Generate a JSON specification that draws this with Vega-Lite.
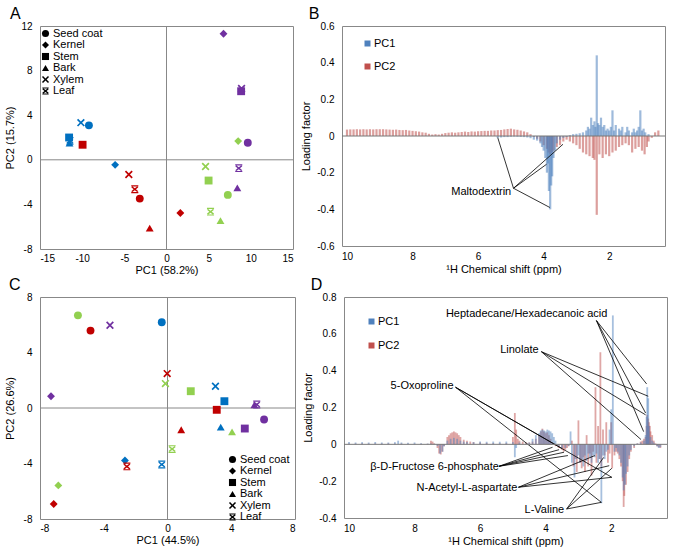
{
"$schema": "https://vega.github.io/schema/vega-lite/v6.json",
"background": "white",
"padding": {"left": 3, "top": 5, "right": 0, "bottom": 0},
"config": {
  "font": "Liberation Sans",
  "view": {"stroke": "#888888", "strokeWidth": 1},
  "axis": {"labelFont": "Liberation Sans", "labelFontSize": 10, "labelColor": "#000", "titleFont": "Liberation Sans", "titleFontSize": 11, "titleFontWeight": "normal", "titleColor": "#000", "grid": false, "domain": false, "ticks": false, "labelOverlap": false, "tickCount": 12},
  "legend": {"labelFont": "Liberation Sans", "labelFontSize": 11, "labelColor": "#000", "padding": 0},
  "title": {"font": "Liberation Sans", "fontSize": 16, "fontWeight": "normal", "anchor": "start", "frame": "bounds", "offset": -1, "color": "#000"}
},
"resolve": {"scale": {"color": "independent", "shape": "independent"}, "legend": {"color": "independent", "shape": "independent"}},
"datasets": {
  "scA": [
    {"t":"Kernel","g":"p","x":6.76,"y":11.3},
    {"t":"Stem","g":"p","x":8.85,"y":6.15},
    {"t":"Xylem","g":"p","x":8.9,"y":6.4},
    {"t":"Kernel","g":"g","x":8.5,"y":1.68},
    {"t":"Seed coat","g":"p","x":9.64,"y":1.53},
    {"t":"Xylem","g":"g","x":4.63,"y":-0.6},
    {"t":"Leaf","g":"p","x":8.57,"y":-0.75},
    {"t":"Stem","g":"g","x":4.99,"y":-1.86},
    {"t":"Bark","g":"p","x":8.4,"y":-2.52},
    {"t":"Seed coat","g":"g","x":7.27,"y":-3.15},
    {"t":"Kernel","g":"r","x":1.64,"y":-4.77},
    {"t":"Leaf","g":"g","x":5.22,"y":-4.65},
    {"t":"Bark","g":"g","x":6.4,"y":-5.46},
    {"t":"Xylem","g":"b","x":-10.15,"y":3.33},
    {"t":"Seed coat","g":"b","x":-9.2,"y":3.09},
    {"t":"Leaf","g":"b","x":-11.45,"y":1.7},
    {"t":"Bark","g":"b","x":-11.5,"y":1.5},
    {"t":"Stem","g":"b","x":-11.55,"y":2.0},
    {"t":"Stem","g":"r","x":-9.95,"y":1.35},
    {"t":"Kernel","g":"b","x":-6.09,"y":-0.45},
    {"t":"Xylem","g":"r","x":-4.47,"y":-1.32},
    {"t":"Leaf","g":"r","x":-3.76,"y":-2.64},
    {"t":"Seed coat","g":"r","x":-3.17,"y":-3.48},
    {"t":"Bark","g":"r","x":-1.99,"y":-6.12}
  ],
  "scC": [
    {"t":"Seed coat","g":"g","x":-5.62,"y":6.68},
    {"t":"Seed coat","g":"r","x":-4.83,"y":5.58},
    {"t":"Xylem","g":"p","x":-3.61,"y":5.96},
    {"t":"Seed coat","g":"b","x":-0.36,"y":6.18},
    {"t":"Xylem","g":"r","x":-0.02,"y":2.48},
    {"t":"Xylem","g":"g","x":-0.13,"y":1.76},
    {"t":"Kernel","g":"p","x":-7.31,"y":0.85},
    {"t":"Stem","g":"g","x":1.46,"y":1.21},
    {"t":"Xylem","g":"b","x":3.01,"y":1.57},
    {"t":"Stem","g":"b","x":3.57,"y":0.49},
    {"t":"Bark","g":"p","x":5.45,"y":0.22},
    {"t":"Leaf","g":"p","x":5.6,"y":0.25},
    {"t":"Stem","g":"r","x":3.09,"y":-0.13},
    {"t":"Seed coat","g":"p","x":6.06,"y":-0.83},
    {"t":"Bark","g":"r","x":0.86,"y":-1.57},
    {"t":"Bark","g":"b","x":3.34,"y":-1.38},
    {"t":"Bark","g":"g","x":4.05,"y":-1.72},
    {"t":"Stem","g":"p","x":4.85,"y":-1.48},
    {"t":"Leaf","g":"g","x":0.29,"y":-2.96},
    {"t":"Kernel","g":"b","x":-2.67,"y":-3.78},
    {"t":"Leaf","g":"r","x":-2.55,"y":-4.21},
    {"t":"Leaf","g":"b","x":-0.36,"y":-4.07},
    {"t":"Kernel","g":"g","x":-6.85,"y":-5.58},
    {"t":"Kernel","g":"r","x":-7.14,"y":-6.92}
  ],
  "spB": [
    {"s":"PC2","x":10.0,"v":0.035},{"s":"PC2","x":9.9,"v":0.036},{"s":"PC2","x":9.8,"v":0.036},{"s":"PC2","x":9.7,"v":0.037},{"s":"PC2","x":9.6,"v":0.036},{"s":"PC2","x":9.5,"v":0.037},{"s":"PC2","x":9.4,"v":0.036},{"s":"PC2","x":9.3,"v":0.037},{"s":"PC2","x":9.2,"v":0.036},{"s":"PC2","x":9.1,"v":0.037},
    {"s":"PC2","x":9.0,"v":0.037},{"s":"PC2","x":8.9,"v":0.037},{"s":"PC2","x":8.8,"v":0.036},{"s":"PC2","x":8.7,"v":0.035},{"s":"PC2","x":8.6,"v":0.034},{"s":"PC2","x":8.5,"v":0.035},{"s":"PC2","x":8.4,"v":0.033},{"s":"PC2","x":8.3,"v":0.032},{"s":"PC2","x":8.2,"v":0.033},{"s":"PC2","x":8.1,"v":0.03},
    {"s":"PC2","x":8.0,"v":0.028},{"s":"PC2","x":7.9,"v":0.026},{"s":"PC2","x":7.8,"v":0.024},{"s":"PC2","x":7.7,"v":0.02},{"s":"PC2","x":7.6,"v":0.018},{"s":"PC2","x":7.5,"v":0.012},{"s":"PC2","x":7.4,"v":0.008},{"s":"PC2","x":7.3,"v":0.01},{"s":"PC2","x":7.2,"v":0.008},{"s":"PC2","x":7.1,"v":0.012},
    {"s":"PC2","x":7.0,"v":0.016},{"s":"PC2","x":6.9,"v":0.018},{"s":"PC2","x":6.8,"v":0.02},{"s":"PC2","x":6.7,"v":0.018},{"s":"PC2","x":6.6,"v":0.02},{"s":"PC2","x":6.5,"v":0.022},{"s":"PC2","x":6.4,"v":0.024},{"s":"PC2","x":6.3,"v":0.022},{"s":"PC2","x":6.2,"v":0.025},{"s":"PC2","x":6.1,"v":0.024},
    {"s":"PC2","x":6.0,"v":0.026},{"s":"PC2","x":5.9,"v":0.027},{"s":"PC2","x":5.8,"v":0.028},{"s":"PC2","x":5.7,"v":0.028},{"s":"PC2","x":5.6,"v":0.03},{"s":"PC2","x":5.5,"v":0.03},{"s":"PC2","x":5.4,"v":0.032},{"s":"PC2","x":5.3,"v":0.033},{"s":"PC2","x":5.2,"v":0.036},{"s":"PC2","x":5.1,"v":0.038},
    {"s":"PC2","x":5.0,"v":0.04},{"s":"PC2","x":4.9,"v":0.036},{"s":"PC2","x":4.8,"v":0.034},{"s":"PC2","x":4.7,"v":0.03},{"s":"PC2","x":4.6,"v":0.025},{"s":"PC2","x":4.5,"v":0.02},{"s":"PC2","x":4.4,"v":0.01},{"s":"PC2","x":4.3,"v":-0.005},{"s":"PC2","x":4.2,"v":-0.015},{"s":"PC2","x":4.1,"v":-0.03},
    {"s":"PC2","x":4.0,"v":-0.05},{"s":"PC2","x":3.9,"v":-0.07},{"s":"PC2","x":3.85,"v":-0.09},{"s":"PC2","x":3.8,"v":-0.1},{"s":"PC2","x":3.75,"v":-0.09},{"s":"PC2","x":3.7,"v":-0.08},{"s":"PC2","x":3.6,"v":-0.06},{"s":"PC2","x":3.5,"v":-0.05},{"s":"PC2","x":3.4,"v":-0.03},{"s":"PC2","x":3.3,"v":-0.02},
    {"s":"PC2","x":3.2,"v":-0.03},{"s":"PC2","x":3.1,"v":-0.04},{"s":"PC2","x":3.0,"v":-0.05},{"s":"PC2","x":2.9,"v":-0.07},{"s":"PC2","x":2.8,"v":-0.09},{"s":"PC2","x":2.7,"v":-0.1},{"s":"PC2","x":2.6,"v":-0.11},{"s":"PC2","x":2.5,"v":-0.12},{"s":"PC2","x":2.45,"v":-0.13},{"s":"PC2","x":2.38,"v":-0.43},
    {"s":"PC2","x":2.3,"v":-0.1},{"s":"PC2","x":2.2,"v":-0.12},{"s":"PC2","x":2.1,"v":-0.1},{"s":"PC2","x":2.0,"v":-0.11},{"s":"PC2","x":1.9,"v":-0.09},{"s":"PC2","x":1.8,"v":-0.08},{"s":"PC2","x":1.7,"v":-0.06},{"s":"PC2","x":1.6,"v":-0.05},{"s":"PC2","x":1.5,"v":-0.04},{"s":"PC2","x":1.4,"v":-0.05},
    {"s":"PC2","x":1.3,"v":-0.09},{"s":"PC2","x":1.2,"v":-0.07},{"s":"PC2","x":1.1,"v":-0.06},{"s":"PC2","x":1.0,"v":-0.08},{"s":"PC2","x":0.92,"v":-0.1},{"s":"PC2","x":0.85,"v":-0.06},{"s":"PC2","x":0.8,"v":-0.03},{"s":"PC2","x":0.7,"v":-0.01},{"s":"PC2","x":0.6,"v":0.02},{"s":"PC2","x":0.5,"v":0.03},
    {"s":"PC1","x":5.4,"v":-0.01},{"s":"PC1","x":5.3,"v":-0.008},{"s":"PC1","x":5.2,"v":-0.006},{"s":"PC1","x":5.1,"v":-0.006},{"s":"PC1","x":5.0,"v":-0.004},{"s":"PC1","x":4.9,"v":-0.003},{"s":"PC1","x":4.8,"v":-0.004},{"s":"PC1","x":4.7,"v":-0.005},{"s":"PC1","x":4.6,"v":-0.006},{"s":"PC1","x":4.5,"v":-0.008},
    {"s":"PC1","x":4.4,"v":-0.012},{"s":"PC1","x":4.3,"v":-0.02},{"s":"PC1","x":4.2,"v":-0.025},{"s":"PC1","x":4.1,"v":-0.04},{"s":"PC1","x":4.05,"v":-0.06},{"s":"PC1","x":4.0,"v":-0.08},{"s":"PC1","x":3.95,"v":-0.12},{"s":"PC1","x":3.9,"v":-0.2},{"s":"PC1","x":3.87,"v":-0.15},{"s":"PC1","x":3.84,"v":-0.3},
    {"s":"PC1","x":3.8,"v":-0.4},{"s":"PC1","x":3.77,"v":-0.27},{"s":"PC1","x":3.74,"v":-0.22},{"s":"PC1","x":3.7,"v":-0.12},{"s":"PC1","x":3.65,"v":-0.08},{"s":"PC1","x":3.6,"v":-0.04},{"s":"PC1","x":3.5,"v":-0.02},{"s":"PC1","x":3.4,"v":-0.01},{"s":"PC1","x":3.3,"v":-0.005},{"s":"PC1","x":3.2,"v":0.005},
    {"s":"PC1","x":3.1,"v":0.01},{"s":"PC1","x":3.0,"v":0.012},{"s":"PC1","x":2.9,"v":0.015},{"s":"PC1","x":2.8,"v":0.02},{"s":"PC1","x":2.7,"v":0.03},{"s":"PC1","x":2.65,"v":0.05},{"s":"PC1","x":2.6,"v":0.04},{"s":"PC1","x":2.55,"v":0.1},{"s":"PC1","x":2.5,"v":0.06},{"s":"PC1","x":2.45,"v":0.08},
    {"s":"PC1","x":2.42,"v":0.05},{"s":"PC1","x":2.38,"v":0.44},{"s":"PC1","x":2.34,"v":0.07},{"s":"PC1","x":2.3,"v":0.06},{"s":"PC1","x":2.25,"v":0.1},{"s":"PC1","x":2.2,"v":0.05},{"s":"PC1","x":2.15,"v":0.06},{"s":"PC1","x":2.1,"v":0.03},{"s":"PC1","x":2.05,"v":0.04},{"s":"PC1","x":2.0,"v":0.03},
    {"s":"PC1","x":1.95,"v":0.05},{"s":"PC1","x":1.9,"v":0.14},{"s":"PC1","x":1.85,"v":0.03},{"s":"PC1","x":1.8,"v":0.06},{"s":"PC1","x":1.7,"v":0.04},{"s":"PC1","x":1.65,"v":0.03},{"s":"PC1","x":1.6,"v":0.05},{"s":"PC1","x":1.5,"v":0.02},{"s":"PC1","x":1.45,"v":0.05},{"s":"PC1","x":1.4,"v":0.03},
    {"s":"PC1","x":1.3,"v":0.02},{"s":"PC1","x":1.25,"v":0.04},{"s":"PC1","x":1.2,"v":0.02},{"s":"PC1","x":1.15,"v":0.03},{"s":"PC1","x":1.1,"v":0.05},{"s":"PC1","x":1.05,"v":0.14},{"s":"PC1","x":1.0,"v":0.03},{"s":"PC1","x":0.95,"v":0.04},{"s":"PC1","x":0.9,"v":0.02},{"s":"PC1","x":0.8,"v":0.01}
  ],
  "spD": [
    {"s":"PC2","x":10.0,"v":0.005},{"s":"PC2","x":9.8,"v":0.004},{"s":"PC2","x":9.6,"v":0.005},{"s":"PC2","x":9.4,"v":0.004},{"s":"PC2","x":9.2,"v":0.005},{"s":"PC2","x":9.0,"v":0.004},{"s":"PC2","x":8.8,"v":0.005},{"s":"PC2","x":8.6,"v":0.004},{"s":"PC2","x":8.4,"v":0.004},{"s":"PC2","x":8.2,"v":0.003},
    {"s":"PC2","x":8.0,"v":0.003},{"s":"PC2","x":7.8,"v":0.003},{"s":"PC2","x":7.6,"v":0.003},{"s":"PC2","x":7.5,"v":0.02},{"s":"PC2","x":7.45,"v":0.015},{"s":"PC2","x":7.4,"v":0.005},{"s":"PC2","x":7.3,"v":-0.02},{"s":"PC2","x":7.25,"v":-0.05},{"s":"PC2","x":7.2,"v":-0.055},{"s":"PC2","x":7.15,"v":-0.04},
    {"s":"PC2","x":7.1,"v":-0.01},{"s":"PC2","x":7.0,"v":0.04},{"s":"PC2","x":6.95,"v":0.05},{"s":"PC2","x":6.9,"v":0.06},{"s":"PC2","x":6.85,"v":0.065},{"s":"PC2","x":6.8,"v":0.07},{"s":"PC2","x":6.75,"v":0.065},{"s":"PC2","x":6.7,"v":0.06},{"s":"PC2","x":6.65,"v":0.05},{"s":"PC2","x":6.6,"v":0.04},
    {"s":"PC2","x":6.5,"v":0.025},{"s":"PC2","x":6.4,"v":0.02},{"s":"PC2","x":6.3,"v":0.015},{"s":"PC2","x":6.2,"v":0.012},{"s":"PC2","x":6.0,"v":0.01},{"s":"PC2","x":5.8,"v":0.008},{"s":"PC2","x":5.6,"v":0.006},{"s":"PC2","x":5.4,"v":0.005},{"s":"PC2","x":5.2,"v":0.006},{"s":"PC2","x":5.0,"v":0.04},
    {"s":"PC2","x":4.94,"v":0.17},{"s":"PC2","x":4.9,"v":0.08},{"s":"PC2","x":4.85,"v":0.03},{"s":"PC2","x":4.8,"v":0.02},{"s":"PC2","x":4.7,"v":0.015},{"s":"PC2","x":4.6,"v":0.01},{"s":"PC2","x":4.5,"v":0.01},{"s":"PC2","x":4.4,"v":0.015},{"s":"PC2","x":4.3,"v":0.03},{"s":"PC2","x":4.2,"v":0.05},
    {"s":"PC2","x":4.15,"v":0.07},{"s":"PC2","x":4.1,"v":0.085},{"s":"PC2","x":4.05,"v":0.07},{"s":"PC2","x":4.0,"v":0.06},{"s":"PC2","x":3.95,"v":0.065},{"s":"PC2","x":3.9,"v":0.05},{"s":"PC2","x":3.85,"v":0.03},{"s":"PC2","x":3.8,"v":0.01},{"s":"PC2","x":3.7,"v":-0.01},{"s":"PC2","x":3.6,"v":-0.02},
    {"s":"PC2","x":3.5,"v":-0.03},{"s":"PC2","x":3.45,"v":-0.04},{"s":"PC2","x":3.4,"v":-0.03},{"s":"PC2","x":3.35,"v":-0.02},{"s":"PC2","x":3.3,"v":-0.01},{"s":"PC2","x":3.2,"v":0.02},{"s":"PC2","x":3.15,"v":-0.12},{"s":"PC2","x":3.1,"v":-0.08},{"s":"PC2","x":3.05,"v":-0.15},{"s":"PC2","x":3.0,"v":0.13},
    {"s":"PC2","x":2.95,"v":-0.1},{"s":"PC2","x":2.9,"v":-0.13},{"s":"PC2","x":2.85,"v":-0.07},{"s":"PC2","x":2.8,"v":-0.15},{"s":"PC2","x":2.75,"v":0.05},{"s":"PC2","x":2.7,"v":-0.12},{"s":"PC2","x":2.65,"v":-0.05},{"s":"PC2","x":2.6,"v":-0.17},{"s":"PC2","x":2.55,"v":-0.04},{"s":"PC2","x":2.48,"v":0.31},
    {"s":"PC2","x":2.45,"v":-0.1},{"s":"PC2","x":2.4,"v":0.1},{"s":"PC2","x":2.36,"v":-0.08},{"s":"PC2","x":2.33,"v":0.5},{"s":"PC2","x":2.3,"v":-0.12},{"s":"PC2","x":2.25,"v":0.08},{"s":"PC2","x":2.2,"v":-0.06},{"s":"PC2","x":2.15,"v":0.12},{"s":"PC2","x":2.1,"v":-0.1},{"s":"PC2","x":2.05,"v":-0.05},
    {"s":"PC2","x":2.0,"v":0.12},{"s":"PC2","x":1.97,"v":-0.13},{"s":"PC2","x":1.9,"v":-0.06},{"s":"PC2","x":1.85,"v":-0.04},{"s":"PC2","x":1.8,"v":-0.05},{"s":"PC2","x":1.75,"v":-0.08},{"s":"PC2","x":1.7,"v":-0.12},{"s":"PC2","x":1.65,"v":-0.2},{"s":"PC2","x":1.62,"v":-0.34},{"s":"PC2","x":1.6,"v":-0.28},
    {"s":"PC2","x":1.55,"v":-0.22},{"s":"PC2","x":1.5,"v":-0.15},{"s":"PC2","x":1.45,"v":-0.08},{"s":"PC2","x":1.4,"v":-0.04},{"s":"PC2","x":1.3,"v":-0.02},{"s":"PC2","x":1.2,"v":0.005},{"s":"PC2","x":1.1,"v":0.015},{"s":"PC2","x":1.05,"v":0.02},{"s":"PC2","x":1.0,"v":0.03},{"s":"PC2","x":0.95,"v":0.04},
    {"s":"PC2","x":0.92,"v":0.1},{"s":"PC2","x":0.9,"v":0.16},{"s":"PC2","x":0.87,"v":0.14},{"s":"PC2","x":0.85,"v":0.12},{"s":"PC2","x":0.82,"v":0.1},{"s":"PC2","x":0.8,"v":0.07},{"s":"PC2","x":0.75,"v":0.05},{"s":"PC2","x":0.7,"v":0.02},{"s":"PC2","x":0.65,"v":0.005},{"s":"PC2","x":0.6,"v":-0.01},
    {"s":"PC2","x":0.55,"v":-0.015},{"s":"PC2","x":0.5,"v":-0.02},
    {"s":"PC1","x":10.0,"v":0.012},{"s":"PC1","x":9.8,"v":0.01},{"s":"PC1","x":9.6,"v":0.012},{"s":"PC1","x":9.4,"v":0.01},{"s":"PC1","x":9.2,"v":0.012},{"s":"PC1","x":9.0,"v":0.01},{"s":"PC1","x":8.8,"v":0.01},{"s":"PC1","x":8.6,"v":0.012},{"s":"PC1","x":8.5,"v":0.02},{"s":"PC1","x":8.4,"v":0.01},
    {"s":"PC1","x":8.2,"v":0.008},{"s":"PC1","x":8.0,"v":0.01},{"s":"PC1","x":7.8,"v":0.006},{"s":"PC1","x":7.6,"v":0.004},{"s":"PC1","x":7.5,"v":0.005},{"s":"PC1","x":7.4,"v":0.003},{"s":"PC1","x":7.3,"v":-0.01},{"s":"PC1","x":7.22,"v":-0.05},{"s":"PC1","x":7.15,"v":-0.04},{"s":"PC1","x":7.1,"v":-0.01},
    {"s":"PC1","x":7.0,"v":0.02},{"s":"PC1","x":6.9,"v":0.03},{"s":"PC1","x":6.8,"v":0.035},{"s":"PC1","x":6.7,"v":0.03},{"s":"PC1","x":6.6,"v":0.02},{"s":"PC1","x":6.5,"v":0.015},{"s":"PC1","x":6.4,"v":0.012},{"s":"PC1","x":6.2,"v":0.012},{"s":"PC1","x":6.0,"v":0.015},{"s":"PC1","x":5.8,"v":0.014},
    {"s":"PC1","x":5.6,"v":0.015},{"s":"PC1","x":5.4,"v":0.014},{"s":"PC1","x":5.2,"v":0.015},{"s":"PC1","x":5.0,"v":0.012},{"s":"PC1","x":4.94,"v":-0.07},{"s":"PC1","x":4.9,"v":-0.02},{"s":"PC1","x":4.8,"v":0.01},{"s":"PC1","x":4.6,"v":0.005},{"s":"PC1","x":4.5,"v":0.01},{"s":"PC1","x":4.4,"v":0.03},
    {"s":"PC1","x":4.3,"v":0.05},{"s":"PC1","x":4.2,"v":0.06},{"s":"PC1","x":4.15,"v":0.075},{"s":"PC1","x":4.1,"v":0.08},{"s":"PC1","x":4.05,"v":0.075},{"s":"PC1","x":4.0,"v":0.07},{"s":"PC1","x":3.95,"v":0.08},{"s":"PC1","x":3.9,"v":0.075},{"s":"PC1","x":3.85,"v":0.07},{"s":"PC1","x":3.8,"v":0.06},
    {"s":"PC1","x":3.75,"v":0.04},{"s":"PC1","x":3.7,"v":0.02},{"s":"PC1","x":3.6,"v":-0.01},{"s":"PC1","x":3.5,"v":-0.02},{"s":"PC1","x":3.4,"v":-0.02},{"s":"PC1","x":3.3,"v":-0.01},{"s":"PC1","x":3.24,"v":0.07},{"s":"PC1","x":3.2,"v":-0.1},{"s":"PC1","x":3.12,"v":-0.18},{"s":"PC1","x":3.05,"v":-0.08},
    {"s":"PC1","x":3.0,"v":-0.06},{"s":"PC1","x":2.95,"v":-0.1},{"s":"PC1","x":2.9,"v":-0.08},{"s":"PC1","x":2.85,"v":-0.12},{"s":"PC1","x":2.8,"v":-0.06},{"s":"PC1","x":2.75,"v":-0.09},{"s":"PC1","x":2.7,"v":-0.05},{"s":"PC1","x":2.65,"v":-0.07},{"s":"PC1","x":2.6,"v":-0.1},{"s":"PC1","x":2.55,"v":-0.06},
    {"s":"PC1","x":2.5,"v":-0.07},{"s":"PC1","x":2.45,"v":-0.05},{"s":"PC1","x":2.4,"v":-0.1},{"s":"PC1","x":2.35,"v":-0.08},{"s":"PC1","x":2.3,"v":-0.32},{"s":"PC1","x":2.25,"v":-0.06},{"s":"PC1","x":2.2,"v":-0.08},{"s":"PC1","x":2.15,"v":-0.04},{"s":"PC1","x":2.1,"v":-0.03},{"s":"PC1","x":2.05,"v":0.08},
    {"s":"PC1","x":2.0,"v":0.19},{"s":"PC1","x":1.95,"v":0.7},{"s":"PC1","x":1.9,"v":-0.04},{"s":"PC1","x":1.85,"v":-0.02},{"s":"PC1","x":1.8,"v":-0.04},{"s":"PC1","x":1.75,"v":-0.06},{"s":"PC1","x":1.7,"v":-0.1},{"s":"PC1","x":1.65,"v":-0.18},{"s":"PC1","x":1.62,"v":-0.25},{"s":"PC1","x":1.58,"v":-0.22},
    {"s":"PC1","x":1.55,"v":-0.16},{"s":"PC1","x":1.5,"v":-0.12},{"s":"PC1","x":1.45,"v":-0.06},{"s":"PC1","x":1.4,"v":-0.03},{"s":"PC1","x":1.3,"v":-0.01},{"s":"PC1","x":1.2,"v":0.005},{"s":"PC1","x":1.1,"v":0.01},{"s":"PC1","x":1.0,"v":0.02},{"s":"PC1","x":0.95,"v":0.05},{"s":"PC1","x":0.92,"v":0.15},
    {"s":"PC1","x":0.9,"v":0.31},{"s":"PC1","x":0.87,"v":0.25},{"s":"PC1","x":0.85,"v":0.1},{"s":"PC1","x":0.8,"v":0.04},{"s":"PC1","x":0.75,"v":0.02},{"s":"PC1","x":0.7,"v":0.01},{"s":"PC1","x":0.6,"v":-0.01},{"s":"PC1","x":0.55,"v":-0.02},{"s":"PC1","x":0.5,"v":-0.015}
  ],
  "lnB": [
    {"x":4.92,"v":-0.285,"x2":5.4,"v2":-0.009},
    {"x":4.92,"v":-0.285,"x2":3.91,"v2":-0.154},
    {"x":4.92,"v":-0.285,"x2":3.41,"v2":-0.045},
    {"x":4.92,"v":-0.285,"x2":3.81,"v2":-0.39}
  ],
  "txB": [{"x":4.99,"v":-0.303,"label":"Maltodextrin"}],
  "lnD": [
    {"x":2.45,"v":0.672,"x2":0.92,"v2":0.328},
    {"x":2.45,"v":0.672,"x2":0.95,"v2":0.17},
    {"x":2.45,"v":0.672,"x2":1.01,"v2":0.069},
    {"x":4.13,"v":0.503,"x2":0.87,"v2":0.261},
    {"x":4.13,"v":0.503,"x2":0.95,"v2":0.16},
    {"x":4.13,"v":0.503,"x2":1.09,"v2":0.026},
    {"x":6.75,"v":0.31,"x2":3.51,"v2":-0.022},
    {"x":6.75,"v":0.31,"x2":1.98,"v2":-0.179},
    {"x":6.75,"v":0.31,"x2":2.3,"v2":-0.315},
    {"x":5.42,"v":-0.119,"x2":3.79,"v2":-0.016},
    {"x":5.42,"v":-0.119,"x2":3.59,"v2":-0.029},
    {"x":5.42,"v":-0.119,"x2":3.44,"v2":-0.043},
    {"x":5.42,"v":-0.119,"x2":3.32,"v2":-0.061},
    {"x":4.83,"v":-0.233,"x2":2.5,"v2":-0.061},
    {"x":4.83,"v":-0.233,"x2":2.06,"v2":-0.116},
    {"x":4.83,"v":-0.233,"x2":1.98,"v2":-0.179},
    {"x":3.36,"v":-0.351,"x2":2.23,"v2":-0.071},
    {"x":3.36,"v":-0.351,"x2":1.98,"v2":-0.13},
    {"x":3.36,"v":-0.351,"x2":2.3,"v2":-0.315}
  ],
  "txD": [
    {"x":4.58,"v":0.708,"label":"Heptadecane/Hexadecanoic acid"},
    {"x":4.8,"v":0.514,"label":"Linolate"},
    {"x":7.77,"v":0.315,"label":"5-Oxoproline"},
    {"x":7.39,"v":-0.125,"label":"β-D-Fructose 6-phosphate"},
    {"x":6.4,"v":-0.239,"label":"N-Acetyl-L-aspartate"},
    {"x":4.04,"v":-0.356,"label":"L-Valine"}
  ]
},
"vconcat": [
  {"hconcat": [
    {
      "width": 253, "height": 223,
      "title": {"text": "A", "dx": 5},
      "layer": [
        {"data": {"values": [{}]}, "mark": {"type": "rule", "color": "#888888"}, "encoding": {"x": {"datum": 0}}},
        {"data": {"values": [{}]}, "mark": {"type": "rule", "color": "#888888"}, "encoding": {"y": {"datum": 0}}},
        {"data": {"name": "scA"}, "mark": {"type": "point", "filled": true, "size": 62, "opacity": 1},
         "encoding": {
           "x": {"field": "x", "type": "quantitative", "scale": {"domain": [-15, 15], "nice": false, "zero": false}, "axis": {"values": [-15, -10, -5, 0, 5, 10, 15], "title": "PC1 (58.2%)", "labelExpr": "'' + datum.value", "labelPadding": 4, "titlePadding": 1, "labelOverlap": false, "tickCount": 12}},
           "y": {"field": "y", "type": "quantitative", "scale": {"domain": [-8, 12], "nice": false, "zero": false}, "axis": {"values": [-8, -4, 0, 4, 8, 12], "title": "PC2 (15.7%)", "labelExpr": "'' + datum.value", "labelPadding": 8, "titlePadding": 5, "labelOverlap": false, "tickCount": 12}},
           "color": {"field": "g", "type": "nominal", "scale": {"domain": ["b", "r", "p", "g"], "range": ["#0070C0", "#C00000", "#7030A0", "#92D050"]}, "legend": null},
           "shape": {"field": "t", "type": "nominal", "scale": {"domain": ["Seed coat", "Kernel", "Stem", "Bark", "Xylem", "Leaf"], "range": ["circle", "diamond", "square", "triangle-up", "M-1,-0.7L-0.7,-1L0,-0.3L0.7,-1L1,-0.7L0.3,0L1,0.7L0.7,1L0,0.3L-0.7,1L-1,0.7L-0.3,0Z", "M-0.9,-0.5L-0.6,-0.7L0,-0.25L0.6,-0.7L0.9,-0.5L0.3,0L0.9,0.5L0.6,0.7L0,0.25L-0.6,0.7L-0.9,0.5L-0.3,0Z M-0.9,-1L0.9,-1L0.9,-0.7L-0.9,-0.7Z M-0.9,0.7L0.9,0.7L0.9,1L-0.9,1Z"]},
             "legend": {"title": null, "orient": "none", "legendX": 0, "legendY": 2, "symbolFillColor": "#000", "symbolStrokeColor": "#000", "symbolStrokeWidth": 0, "symbolSize": 50, "labelFontSize": 11, "rowPadding": -0.5, "labelOffset": 2}}
         }}
      ]
    },
    {
      "width": 323, "height": 220,
      "title": {"text": "B", "dx": 8},
      "layer": [
        {"data": {"name": "spB"}, "mark": {"type": "bar", "orient": "vertical", "size": 2.2, "opacity": 0.55},
         "encoding": {
           "x": {"field": "x", "type": "quantitative", "scale": {"domain": [0.45, 10], "reverse": true, "nice": false, "zero": false}, "axis": {"values": [10, 8, 6, 4, 2], "title": "¹H Chemical shift (ppm)", "labelExpr": "'' + datum.value", "labelPadding": 5, "titlePadding": 2, "labelOverlap": false, "tickCount": 12}},
           "y": {"field": "v", "type": "quantitative", "stack": null, "scale": {"domain": [-0.6, 0.6], "nice": false}, "axis": {"values": [-0.6, -0.4, -0.2, 0, 0.2, 0.4, 0.6], "title": "Loading factor", "labelExpr": "'' + datum.value", "labelPadding": 8, "titlePadding": 5, "labelOverlap": false, "tickCount": 12}},
           "color": {"field": "s", "type": "nominal", "scale": {"domain": ["PC1", "PC2"], "range": ["#4F81BD", "#C0504D"]},
             "legend": {"title": null, "orient": "none", "legendX": 20, "legendY": 12, "symbolType": "square", "symbolSize": 36, "symbolOpacity": 1, "symbolStrokeWidth": 0, "rowPadding": 11, "labelOffset": 1}}
         }},
        {"data": {"name": "lnB"}, "mark": {"type": "rule", "color": "#000", "strokeWidth": 0.8},
         "encoding": {
           "x": {"field": "x", "type": "quantitative", "axis": {"values": [10, 8, 6, 4, 2], "title": "¹H Chemical shift (ppm)", "labelExpr": "'' + datum.value", "labelPadding": 5, "titlePadding": 2, "labelOverlap": false, "tickCount": 12}},
           "x2": {"field": "x2"},
           "y": {"field": "v", "type": "quantitative", "axis": {"values": [-0.6, -0.4, -0.2, 0, 0.2, 0.4, 0.6], "title": "Loading factor", "labelExpr": "'' + datum.value", "labelPadding": 8, "titlePadding": 5, "labelOverlap": false, "tickCount": 12}},
           "y2": {"field": "v2"}}},
        {"data": {"name": "txB"}, "mark": {"type": "text", "align": "right", "baseline": "middle", "fontSize": 11, "color": "#000"},
         "encoding": {
           "x": {"field": "x", "type": "quantitative", "axis": {"values": [10, 8, 6, 4, 2], "title": "¹H Chemical shift (ppm)", "labelExpr": "'' + datum.value", "labelPadding": 5, "titlePadding": 2, "labelOverlap": false, "tickCount": 12}},
           "y": {"field": "v", "type": "quantitative", "axis": {"values": [-0.6, -0.4, -0.2, 0, 0.2, 0.4, 0.6], "title": "Loading factor", "labelExpr": "'' + datum.value", "labelPadding": 8, "titlePadding": 5, "labelOverlap": false, "tickCount": 12}},
           "text": {"field": "label"}}},
        {"data": {"values": [{}]}, "mark": {"type": "rule", "color": "#777777"}, "encoding": {"y": {"datum": 0}}}
      ]
    }
  ],
  "spacing": 6,
  "resolve": {"scale": {"color": "independent", "shape": "independent"}, "legend": {"color": "independent", "shape": "independent"}}},
  {"hconcat": [
    {
      "width": 255, "height": 222,
      "title": {"text": "C", "dx": 5},
      "layer": [
        {"data": {"values": [{}]}, "mark": {"type": "rule", "color": "#888888"}, "encoding": {"x": {"datum": 0}}},
        {"data": {"values": [{}]}, "mark": {"type": "rule", "color": "#888888"}, "encoding": {"y": {"datum": 0}}},
        {"data": {"name": "scC"}, "mark": {"type": "point", "filled": true, "size": 62, "opacity": 1},
         "encoding": {
           "x": {"field": "x", "type": "quantitative", "scale": {"domain": [-8, 8], "nice": false, "zero": false}, "axis": {"values": [-8, -4, 0, 4, 8], "title": "PC1 (44.5%)", "labelExpr": "'' + datum.value", "labelPadding": 4, "titlePadding": 1, "labelOverlap": false, "tickCount": 12}},
           "y": {"field": "y", "type": "quantitative", "scale": {"domain": [-8, 8], "nice": false, "zero": false}, "axis": {"values": [-8, -4, 0, 4, 8], "title": "PC2 (26.6%)", "labelExpr": "'' + datum.value", "labelPadding": 8, "titlePadding": 8, "labelOverlap": false, "tickCount": 12}},
           "color": {"field": "g", "type": "nominal", "scale": {"domain": ["b", "r", "p", "g"], "range": ["#0070C0", "#C00000", "#7030A0", "#92D050"]}, "legend": null},
           "shape": {"field": "t", "type": "nominal", "scale": {"domain": ["Seed coat", "Kernel", "Stem", "Bark", "Xylem", "Leaf"], "range": ["circle", "diamond", "square", "triangle-up", "M-1,-0.7L-0.7,-1L0,-0.3L0.7,-1L1,-0.7L0.3,0L1,0.7L0.7,1L0,0.3L-0.7,1L-1,0.7L-0.3,0Z", "M-0.9,-0.5L-0.6,-0.7L0,-0.25L0.6,-0.7L0.9,-0.5L0.3,0L0.9,0.5L0.6,0.7L0,0.25L-0.6,0.7L-0.9,0.5L-0.3,0Z M-0.9,-1L0.9,-1L0.9,-0.7L-0.9,-0.7Z M-0.9,0.7L0.9,0.7L0.9,1L-0.9,1Z"]},
             "legend": {"title": null, "orient": "none", "legendX": 187, "legendY": 157, "symbolFillColor": "#000", "symbolStrokeColor": "#000", "symbolStrokeWidth": 0, "symbolSize": 50, "labelFontSize": 11, "rowPadding": -0.5, "labelOffset": 2}}
         }}
      ]
    },
    {
      "width": 323, "height": 221,
      "title": {"text": "D", "dx": 8},
      "layer": [
        {"data": {"name": "spD"}, "mark": {"type": "bar", "orient": "vertical", "size": 1.8, "opacity": 0.5},
         "encoding": {
           "x": {"field": "x", "type": "quantitative", "scale": {"domain": [0.45, 10], "reverse": true, "nice": false, "zero": false}, "axis": {"values": [10, 8, 6, 4, 2], "title": "¹H Chemical shift (ppm)", "labelExpr": "'' + datum.value", "labelPadding": 5, "titlePadding": 2, "labelOverlap": false, "tickCount": 12}},
           "y": {"field": "v", "type": "quantitative", "stack": null, "scale": {"domain": [-0.4, 0.8], "nice": false}, "axis": {"values": [-0.4, -0.2, 0, 0.2, 0.4, 0.6, 0.8], "title": "Loading factor", "labelExpr": "'' + datum.value", "labelPadding": 8, "titlePadding": 5, "labelOverlap": false, "tickCount": 12}},
           "color": {"field": "s", "type": "nominal", "scale": {"domain": ["PC1", "PC2"], "range": ["#4F81BD", "#C0504D"]},
             "legend": {"title": null, "orient": "none", "legendX": 22, "legendY": 19, "symbolType": "square", "symbolSize": 36, "symbolOpacity": 1, "symbolStrokeWidth": 0, "rowPadding": 12, "labelOffset": 1}}
         }},
        {"data": {"name": "lnD"}, "mark": {"type": "rule", "color": "#000", "strokeWidth": 0.8},
         "encoding": {
           "x": {"field": "x", "type": "quantitative", "axis": {"values": [10, 8, 6, 4, 2], "title": "¹H Chemical shift (ppm)", "labelExpr": "'' + datum.value", "labelPadding": 5, "titlePadding": 2, "labelOverlap": false, "tickCount": 12}},
           "x2": {"field": "x2"},
           "y": {"field": "v", "type": "quantitative", "axis": {"values": [-0.4, -0.2, 0, 0.2, 0.4, 0.6, 0.8], "title": "Loading factor", "labelExpr": "'' + datum.value", "labelPadding": 8, "titlePadding": 5, "labelOverlap": false, "tickCount": 12}},
           "y2": {"field": "v2"}}},
        {"data": {"name": "txD"}, "mark": {"type": "text", "align": "center", "baseline": "middle", "fontSize": 11, "color": "#000"},
         "encoding": {
           "x": {"field": "x", "type": "quantitative", "axis": {"values": [10, 8, 6, 4, 2], "title": "¹H Chemical shift (ppm)", "labelExpr": "'' + datum.value", "labelPadding": 5, "titlePadding": 2, "labelOverlap": false, "tickCount": 12}},
           "y": {"field": "v", "type": "quantitative", "axis": {"values": [-0.4, -0.2, 0, 0.2, 0.4, 0.6, 0.8], "title": "Loading factor", "labelExpr": "'' + datum.value", "labelPadding": 8, "titlePadding": 5, "labelOverlap": false, "tickCount": 12}},
           "text": {"field": "label"}}},
        {"data": {"values": [{}]}, "mark": {"type": "rule", "color": "#777777"}, "encoding": {"y": {"datum": 0}}}
      ]
    }
  ],
  "spacing": 6,
  "resolve": {"scale": {"color": "independent", "shape": "independent"}, "legend": {"color": "independent", "shape": "independent"}}}
],
"spacing": 0
}
